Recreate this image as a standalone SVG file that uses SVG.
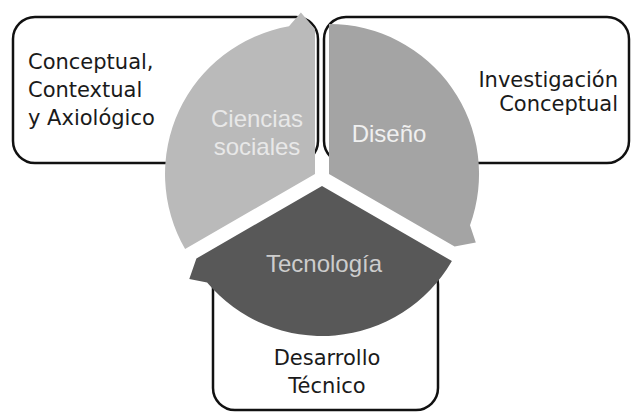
<svg xmlns="http://www.w3.org/2000/svg" width="631" height="412" viewBox="0 0 631 412">
<style>
.box{fill:#fff;stroke:#111;stroke-width:2.5}
.bt{font-family:"DejaVu Sans",sans-serif;font-size:21px;fill:#1a1a1a}
.wt{font-family:"Liberation Sans",Arial,sans-serif;font-size:24px;text-anchor:middle}
</style>
<rect width="631" height="412" fill="#fff"/>
<g id="box-left"><rect class="box" x="13" y="17" width="305" height="146" rx="22"/>
<text class="bt" x="28" y="69">Conceptual,</text>
<text class="bt" x="28" y="97">Contextual</text>
<text class="bt" x="28" y="125">y Axiológico</text></g>
<g id="box-right"><rect class="box" x="324" y="17" width="305" height="146" rx="22"/>
<text class="bt" x="618" y="87" text-anchor="end">Investigación</text>
<text class="bt" x="618" y="111" text-anchor="end">Conceptual</text></g>
<g id="box-bottom"><rect class="box" x="213" y="262" width="225" height="148" rx="22"/>
<text class="bt" x="327" y="365" text-anchor="middle">Desarrollo</text>
<text class="bt" x="327" y="393" text-anchor="middle">Técnico</text></g>
<g id="connectors"></g>
<g id="ciencias-sociales"><path fill="#bababa" d="M315,174 L185.1,249 A150,150 0 0 1 289,26.3 L300.9,12.6 L315,29 Z"/>
<text class="wt" x="257" y="127" fill="#e8e8e8">Ciencias</text>
<text class="wt" x="257" y="155" fill="#e8e8e8">sociales</text></g>
<g id="diseno"><path fill="#a4a4a4" d="M329,174 L329,24 A150,150 0 0 1 470,225.3 L475.8,242.5 L454.6,246.5 Z"/>
<text class="wt" x="389" y="142" fill="#f0f0f0">Diseño</text></g>
<g id="tecnologia"><path fill="#585858" d="M322,186 L451.9,261 A150,150 0 0 1 207.1,282.4 L189.3,278.9 L196.4,258.5 Z"/>
<text class="wt" x="324" y="272" fill="#cdcdcd">Tecnología</text></g>
</svg>
